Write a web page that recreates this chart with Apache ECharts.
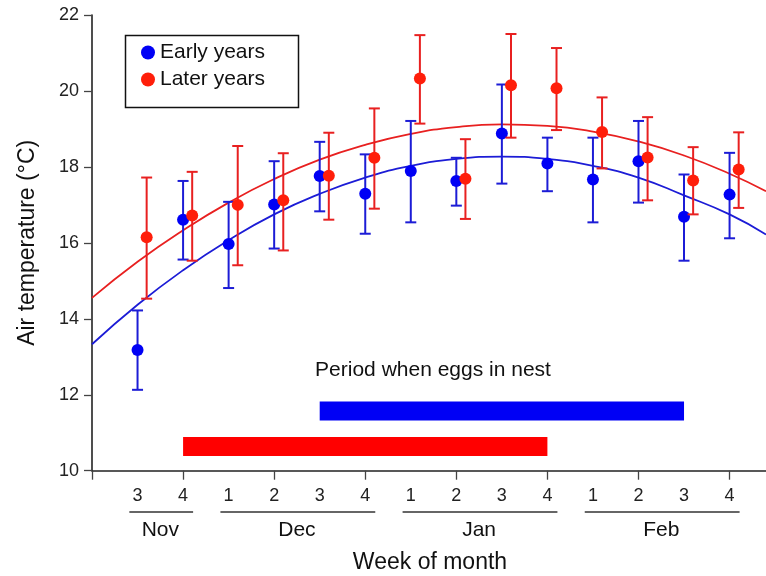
<!DOCTYPE html>
<html><head><meta charset="utf-8">
<script src="https://cdn.jsdelivr.net/npm/echarts@6/dist/echarts.min.js"></script>
<style>html,body{margin:0;padding:0;background:#fff}#c{width:766px;height:576px}</style>
</head><body><div id="c"></div>
<script>
// ---- data ----
const weeks = [1,2,3,4,5,6,7,8,9,10,11,12,13,14];
const weekLabels = ['3','4','1','2','3','4','1','2','3','4','1','2','3','4'];
const months = ['Nov','Dec','Jan','Feb'];
const monthFirstWeek = [1,3,7,11];
const monthLastWeek = [2,6,10,14];

const earlyMean  = [13.18,16.61,15.97,17.01,17.76,17.29,17.89,17.63,18.88,18.09,17.67,18.15,16.69,17.27];
const earlyUpper = [14.22,17.63,17.08,18.15,18.66,18.33,19.21,18.24,20.17,18.77,18.77,19.21,17.80,18.37];
const earlyLower = [12.13,15.56,14.81,15.85,16.83,16.24,16.54,16.98,17.56,17.36,16.54,17.06,15.53,16.12];

const laterMean  = [16.15,16.72,17.00,17.12,17.77,18.24,20.33,17.69,20.15,20.07,18.92,18.25,17.64,17.93];
const laterUpper = [17.72,17.87,18.55,18.36,18.90,19.54,21.47,18.73,21.50,21.13,19.83,19.31,18.52,18.91];
const laterLower = [14.53,15.53,15.41,15.80,16.61,16.90,19.14,16.63,18.77,18.97,17.96,17.12,16.75,16.92];

const fitWeeks = [0,1,2,3,4,5,6,7,8,9,10,11,12,13,14,14.8];
const earlyFit = [13.33,14.37,15.28,16.07,16.75,17.29,17.72,18.03,18.21,18.27,18.21,18.03,17.72,17.25,16.75,16.22];
const laterFit = [14.55,15.50,16.33,17.06,17.68,18.19,18.58,18.87,19.05,19.12,19.08,18.93,18.67,18.30,17.82,17.36];

const periodNames = ['Early years','Later years'];
const periodStart = [5, 2];
const periodEnd   = [13, 10];
const periodLow   = [11.32, 10.39];
const periodHigh  = [11.82, 10.89];

const yTicks = [10,12,14,16,18,20,22];
const laterOffset = 0.2; // dodge of later-year markers

// ---- styles ----
const BLUE = '#0000f5', BLUE_LINE = '#1c1cd6';
const RED = '#ff1e0a', RED_LINE = '#e82020';
const FONT = 'Liberation Sans, Arial, Helvetica, sans-serif';

const chart = echarts.init(document.getElementById('c'));

function errRender(color){
  return function(params, api){
    const x = api.value(0), lo = api.value(1), hi = api.value(2);
    const a = api.coord([x, hi]), b = api.coord([x, lo]);
    const w = 5.5;
    const st = {stroke: color, lineWidth: 2};
    return {type:'group', children:[
      {type:'line', shape:{x1:a[0],y1:a[1],x2:b[0],y2:b[1]}, style:st},
      {type:'line', shape:{x1:a[0]-w,y1:a[1],x2:a[0]+w,y2:a[1]}, style:st},
      {type:'line', shape:{x1:b[0]-w,y1:b[1],x2:b[0]+w,y2:b[1]}, style:st}
    ]};
  };
}

const earlyErr = weeks.map((w,i)=>[w, earlyLower[i], earlyUpper[i]]);
const laterErr = weeks.map((w,i)=>[w+laterOffset, laterLower[i], laterUpper[i]]);
const earlyPts = weeks.map((w,i)=>[w, earlyMean[i]]);
const laterPts = weeks.map((w,i)=>[w+laterOffset, laterMean[i]]);
const periodData = periodNames.map((n,i)=>[periodStart[i], periodEnd[i], periodLow[i], periodHigh[i]]);
const periodColors = [BLUE, '#ff0000'];

const option = {
  animation: false,
  backgroundColor: '#fff',
  textStyle: {fontFamily: FONT},
  grid: {left: 92, right: 0, top: 15, bottom: 105.3, containLabel: false},
  xAxis: {
    type: 'value', min: 0, max: 14.8, interval: 1,
    axisLine: {show: true, lineStyle: {color: '#222', width: 1.6}},
    axisTick: {show: true, length: 9, lineStyle: {color: '#444', width: 1.3},
               customValues: [0,2,4,6,8,10,12,14]},
    axisLabel: {show: true, customValues: weeks, margin: 16, fontSize: 18, color: '#222', fontFamily: FONT,
                formatter: v => weekLabels[Math.round(v) - 1] || ''},
    splitLine: {show: false}
  },
  yAxis: {
    type: 'value', min: 10, max: 22, interval: 2,
    name: 'Air temperature (°C)', nameLocation: 'middle', nameGap: 53,
    nameTextStyle: {fontSize: 23, color: '#111', fontFamily: FONT},
    axisLine: {show: true, lineStyle: {color: '#222', width: 1.6}},
    axisTick: {show: true, length: 8, lineStyle: {color: '#444', width: 1.3}},
    axisLabel: {margin: 13, fontSize: 18, color: '#222', fontFamily: FONT,
                formatter: v => yTicks.includes(v) ? String(v) : ''},
    splitLine: {show: false}
  },
  legend: {
    data: ['Early years','Later years'], orient: 'vertical', left: 141, top: 42,
    padding: 0, itemGap: 6, itemWidth: 14, itemHeight: 14, icon: 'circle',
    textStyle: {fontSize: 21, color: '#111', fontFamily: FONT},
    selectedMode: false
  },
  series: [
    {name: 'Early fit', type: 'line', data: fitWeeks.map((w,i)=>[w, earlyFit[i]]), smooth: true,
     symbol: 'none', lineStyle: {color: BLUE_LINE, width: 1.8}, z: 2},
    {name: 'Later fit', type: 'line', data: fitWeeks.map((w,i)=>[w, laterFit[i]]), smooth: true,
     symbol: 'none', lineStyle: {color: RED_LINE, width: 1.8}, z: 2},
    {name: 'Period', type: 'custom', data: periodData, encode: {x: [0,1], y: [2,3]},
     renderItem: function(params, api){
       const a = api.coord([api.value(0), api.value(3)]);
       const b = api.coord([api.value(1), api.value(2)]);
       return {type: 'rect', shape: {x: a[0], y: a[1], width: b[0]-a[0], height: b[1]-a[1]},
               style: {fill: periodColors[params.dataIndex]}};
     }, z: 2},
    {name: 'Early err', type: 'custom', data: earlyErr, encode: {x: 0, y: [1,2]},
     renderItem: errRender(BLUE_LINE), z: 3},
    {name: 'Early years', type: 'scatter', data: earlyPts, symbolSize: 12,
     itemStyle: {color: BLUE, opacity: 1}, z: 4},
    {name: 'Later err', type: 'custom', data: laterErr, encode: {x: 0, y: [1,2]},
     renderItem: errRender(RED_LINE), z: 5},
    {name: 'Later years', type: 'scatter', data: laterPts, symbolSize: 12,
     itemStyle: {color: RED, opacity: 1}, z: 6}
  ]
};
chart.setOption(option);

// month underlines and labels, plus annotations, placed through the x axis scale
const gfx = [
  {type: 'rect', left: 123, top: 33, shape: {width: 173, height: 72},
   style: {fill: 'none', stroke: '#111', lineWidth: 1.5}, z: 10},
  {type: 'text', x: 433, y: 370, style: {text: 'Period when eggs in nest', font: '21px ' + FONT,
   fill: '#111', textAlign: 'center', textVerticalAlign: 'middle'}, z: 10},
  {type: 'text', x: 430, y: 563, style: {text: 'Week of month', font: '23px ' + FONT,
   fill: '#111', textAlign: 'center', textVerticalAlign: 'middle'}, z: 10}
];
months.forEach((m, k) => {
  const x1 = chart.convertToPixel({xAxisIndex: 0}, monthFirstWeek[k] - 0.18);
  const x2 = chart.convertToPixel({xAxisIndex: 0}, monthLastWeek[k] + 0.22);
  const xm = chart.convertToPixel({xAxisIndex: 0}, (monthFirstWeek[k] + monthLastWeek[k]) / 2);
  gfx.push({type: 'line', shape: {x1: x1, y1: 512, x2: x2, y2: 512},
            style: {stroke: '#333', lineWidth: 1.6}, z: 10});
  gfx.push({type: 'text', x: xm, y: 530, style: {text: m, font: '21px ' + FONT, fill: '#111',
            textAlign: 'center', textVerticalAlign: 'middle'}, z: 10});
});
chart.setOption({graphic: gfx});
</script>
</body></html>
